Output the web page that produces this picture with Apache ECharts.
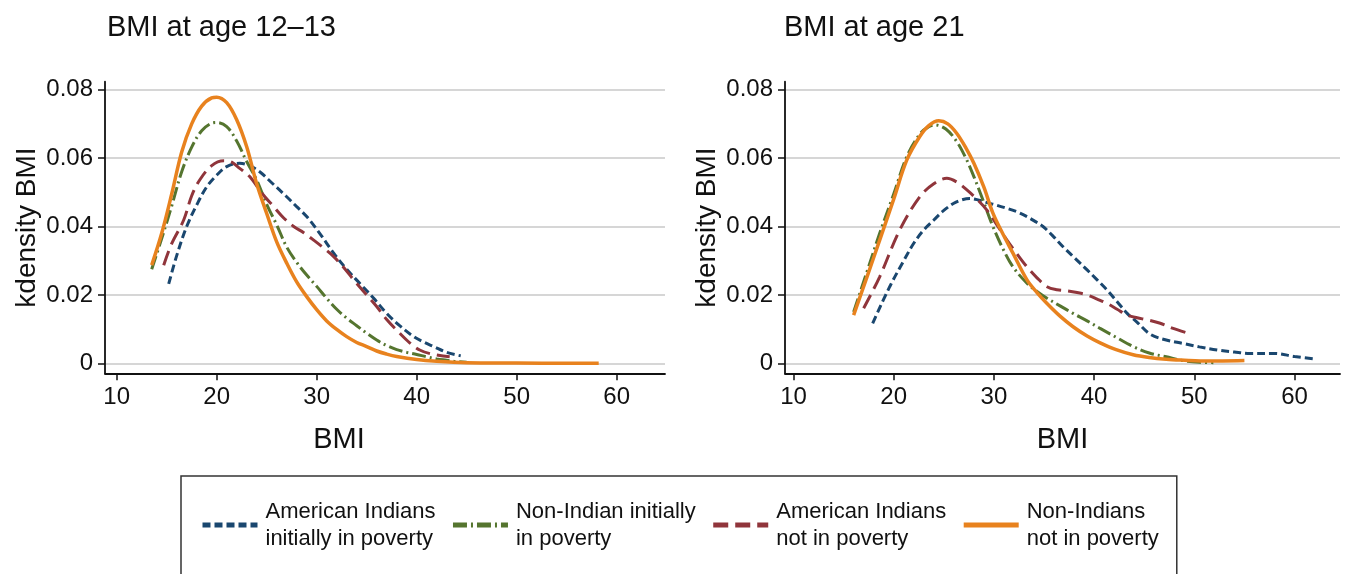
<!DOCTYPE html>
<html>
<head>
<meta charset="utf-8">
<script src="https://cdn.jsdelivr.net/npm/echarts@6/dist/echarts.min.js"></script>
<style>
html,body{margin:0;padding:0;background:#fff;}
#chart{width:1362px;height:574px;}
</style>
</head>
<body>
<div id="chart"></div>
<script>
// ---------- data ----------
const panelTitles = ['BMI at age 12\u201313', 'BMI at age 21'];
const seriesNames = [
  'American Indians\ninitially in poverty',
  'Non-Indian initially\nin poverty',
  'American Indians\nnot in poverty',
  'Non-Indians\nnot in poverty'
];
const xTicks = [10, 20, 30, 40, 50, 60];
const yTicks = [0, 0.02, 0.04, 0.06, 0.08];

// Panel 1: age 12-13
const p1BlueX = [15.2,16,17,18,19,20,21,22.3,23.3,24.3,25.5,27,28,29,30.3,31.7,33,34.3,35.7,37,38.3,39.7,40.7,41.7,43,44.4];
const p1BlueY = [0.0232,0.0315,0.0400,0.0463,0.0516,0.0550,0.0575,0.0585,0.0578,0.0560,0.0528,0.0487,0.0458,0.0429,0.0380,0.0322,0.0275,0.0234,0.0190,0.0146,0.0110,0.0078,0.0062,0.0049,0.0032,0.0022];
const p1GreenX = [13.5,14.5,15.5,16.5,17.5,18.5,19.5,20,21,22,23,24,25,26,27,28,29,30,31,32,33,34,35,36,37,38,39,40,41,42,43,44,45];
const p1GreenY = [0.0275,0.0365,0.0460,0.0560,0.0632,0.0680,0.0702,0.0704,0.0692,0.0650,0.0590,0.0536,0.0465,0.0405,0.0340,0.0295,0.0258,0.0225,0.0190,0.0158,0.0132,0.0110,0.0088,0.0068,0.0052,0.0040,0.0032,0.0026,0.0019,0.0013,0.0009,0.0005,0.0003];
const p1RedX = [14.7,15.5,16.7,17.5,18.3,19.5,20.7,21.5,22.3,23.3,24.5,25.7,26.7,27.7,28.7,29.7,30.7,31.7,32.7,33.7,35,36,37,38.3,39.3,40.3,41.5,43.3];
const p1RedY = [0.0287,0.0350,0.0419,0.0490,0.0536,0.0578,0.0592,0.0588,0.0570,0.0546,0.0498,0.0458,0.0425,0.0400,0.0382,0.0360,0.0337,0.0312,0.0280,0.0244,0.0200,0.0166,0.0128,0.0088,0.0060,0.0039,0.0027,0.0019];
const p1OrangeX = [13.5,14.5,15.5,16.5,17.5,18.5,19.5,20,21,22,23,24,25,26,27,28,29,30,31,32,33,34,35,36,37,38,40,42,45,50,55,58.2];
const p1OrangeY = [0.0287,0.0380,0.0495,0.0618,0.0700,0.0752,0.0776,0.0778,0.0762,0.0712,0.0633,0.0525,0.0438,0.0355,0.0293,0.0238,0.0195,0.0157,0.0124,0.0099,0.0078,0.0061,0.0049,0.0036,0.0027,0.0020,0.0011,0.0006,0.0002,0.0001,0.0000,0.0000];

// Panel 2: age 21
const p2BlueX = [17.9,19.6,21,22,23,24,25,26,26.8,27.6,28.5,29.3,30.3,31.3,32.3,33.3,34.1,34.9,35.9,36.9,38.1,39.3,40.3,41.3,42.3,43.3,44.3,45.6,47.2,48.9,50.5,52.3,54,55.6,58,60,62];
const p2BlueY = [0.0117,0.0224,0.0300,0.0351,0.0390,0.0419,0.0447,0.0468,0.0478,0.0482,0.0477,0.0470,0.0462,0.0453,0.0443,0.0429,0.0415,0.0400,0.0372,0.0341,0.0307,0.0273,0.0244,0.0214,0.0180,0.0146,0.0120,0.0085,0.0068,0.0058,0.0048,0.0039,0.0033,0.0029,0.0029,0.0020,0.0013];
const p2GreenX = [16,17.3,18.6,20,21.3,22.6,23.5,24.1,25.2,26.3,27.2,28,29,29.9,30.9,31.9,33.3,34.3,35.3,36.6,37.9,39.3,40.6,42.2,43.9,45.5,47.2,48.9,50.5,51.9];
const p2GreenY = [0.0150,0.0265,0.0380,0.0495,0.0604,0.0670,0.0692,0.0697,0.0685,0.0648,0.0600,0.0546,0.0470,0.0400,0.0335,0.0282,0.0234,0.0210,0.0190,0.0168,0.0146,0.0124,0.0102,0.0076,0.0049,0.0030,0.0019,0.0008,0.0003,0.0002];
const p2RedX = [17,18.6,20.6,22.6,24,25.3,26.3,27.3,28.3,29.3,30.3,31.3,32.3,33.3,34.3,35.3,36.3,37.3,38.3,39.3,40.3,41.3,42.3,43.3,44.3,45.3,46.6,47.8,49.6];
const p2RedY = [0.0161,0.0253,0.0390,0.0487,0.0525,0.0541,0.0530,0.0507,0.0480,0.0448,0.0405,0.0360,0.0320,0.0282,0.0250,0.0224,0.0215,0.0212,0.0207,0.0200,0.0188,0.0175,0.0158,0.0141,0.0133,0.0127,0.0117,0.0103,0.0086];
const p2OrangeX = [16,17.3,18.6,20,21.3,22.6,23.5,24.5,25.4,26.3,27.2,28,29,29.9,30.9,31.9,33.3,34.3,35.3,36.6,37.9,39.3,40.6,42.2,43.9,45.5,47.2,49,50.6,52.8,55];
const p2OrangeY = [0.0141,0.0250,0.0360,0.0480,0.0594,0.0663,0.0695,0.0709,0.0700,0.0672,0.0630,0.0585,0.0515,0.0439,0.0378,0.0322,0.0244,0.0207,0.0175,0.0138,0.0107,0.0080,0.0060,0.0040,0.0025,0.0017,0.0012,0.0009,0.0007,0.0007,0.0008];

// ---------- styling ----------
const FONT = '"Liberation Sans", Arial, Helvetica, sans-serif';
const colors = ['#1a476f', '#55752f', '#90353b', '#e8821e'];
const dashes = [[8, 4], [14, 4, 2, 4], [15, 7], 'solid'];
const widths = [3, 3, 3, 3.5];

const panels = [
  {xs: [p1BlueX, p1GreenX, p1RedX, p1OrangeX], ys: [p1BlueY, p1GreenY, p1RedY, p1OrangeY]},
  {xs: [p2BlueX, p2GreenX, p2RedX, p2OrangeX], ys: [p2BlueY, p2GreenY, p2RedY, p2OrangeY]}
];

function pairs(xs, ys) { return xs.map((x, i) => [x, ys[i]]); }

const gridTop = 81.7, gridH = 291.6;
const grids = [
  {left: 105, top: gridTop, width: 560, height: gridH},
  {left: 785, top: gridTop, width: 555, height: gridH}
];
const xRanges = [[8.83, 64.83], [9.15, 64.54]];
const yMin = -0.00292, yMax = 0.08234;

const xAxes = [0, 1].map(i => ({
  type: 'value', gridIndex: i, min: xRanges[i][0], max: xRanges[i][1],
  name: 'BMI', nameLocation: 'middle', nameGap: 52,
  nameTextStyle: {fontFamily: FONT, fontSize: 29, color: '#111', padding: i === 0 ? [0, 92, 0, 0] : [0, 0, 0, 0]},
  axisLine: {show: true, onZero: false, lineStyle: {color: '#111', width: 1.8}},
  axisTick: {show: true, customValues: xTicks, length: 7, lineStyle: {color: '#111', width: 1.5}},
  axisLabel: {customValues: xTicks, margin: 12, fontFamily: FONT, fontSize: 24, color: '#111'},
  splitLine: {show: false}
}));

const yAxes = [0, 1].map(i => ({
  type: 'value', gridIndex: i, min: yMin, max: yMax,
  name: 'kdensity BMI', nameLocation: 'middle', nameGap: 64,
  nameTextStyle: {fontFamily: FONT, fontSize: 28, color: '#111'},
  axisLine: {show: true, onZero: false, lineStyle: {color: '#111', width: 1.8}},
  axisTick: {show: true, customValues: yTicks, length: 7, lineStyle: {color: '#111', width: 1.5}},
  axisLabel: {customValues: yTicks, margin: 12, fontFamily: FONT, fontSize: 24, color: '#111',
    formatter: v => (Math.abs(v) < 1e-9 ? '0' : v.toFixed(2))},
  splitLine: {show: true, lineStyle: {color: '#c8c8c8', width: 1.5}}
}));

const series = [];
[0, 1].forEach(p => {
  for (let s = 0; s < 4; s++) {
    series.push({
      type: 'line', name: seriesNames[s], xAxisIndex: p, yAxisIndex: p,
      data: pairs(panels[p].xs[s], panels[p].ys[s]),
      smooth: 0.35, symbol: 'none', silent: true, z: 2 + s,
      lineStyle: {color: colors[s], width: widths[s], type: dashes[s]},
      itemStyle: {color: colors[s]}
    });
  }
});

const option = {
  animation: false,
  backgroundColor: '#fff',
  title: [
    {text: panelTitles[0], left: 102, top: 8, textStyle: {fontFamily: FONT, fontSize: 29, fontWeight: 'normal', color: '#111'}},
    {text: panelTitles[1], left: 779, top: 8, textStyle: {fontFamily: FONT, fontSize: 29, fontWeight: 'normal', color: '#111'}}
  ],
  grid: grids,
  xAxis: xAxes,
  yAxis: yAxes,
  legend: {
    left: 181, top: 476, orient: 'horizontal',
    padding: [22, 18, 24, 19],
    borderColor: '#333', borderWidth: 1.5,
    itemWidth: 55, itemHeight: 12, itemGap: 15,
    selectedMode: false,
    itemStyle: {opacity: 0},
    lineStyle: {width: 5},
    textStyle: {fontFamily: FONT, fontSize: 22, lineHeight: 27, color: '#111', padding: [0, 0, 0, 3]},
    data: seriesNames
  },
  series: series
};

const chart = echarts.init(document.getElementById('chart'), null, {renderer: 'canvas'});
chart.setOption(option);
</script>
</body>
</html>
